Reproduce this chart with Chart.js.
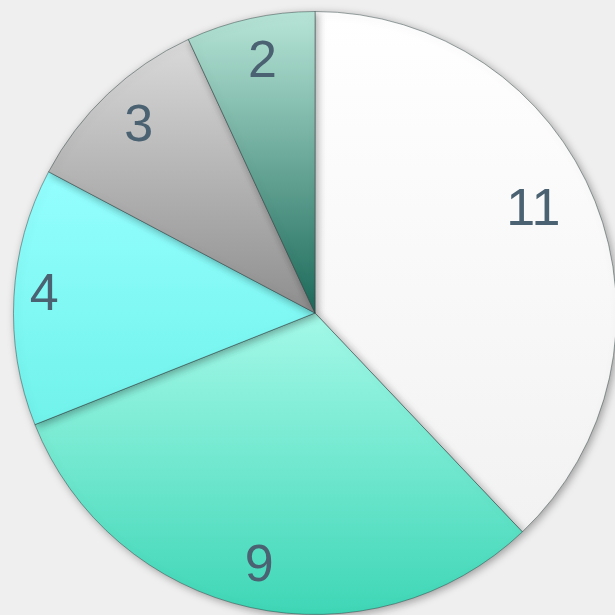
<!DOCTYPE html>
<html>
<head>
<meta charset="utf-8">
<script src="https://cdn.jsdelivr.net/npm/chart.js@4"></script>
<style>
  html, body { margin: 0; padding: 0; background: #efefef; overflow: hidden; }
  #wrap { width: 630px; height: 630px; }
</style>
</head>
<body>
<div id="wrap"><canvas id="pie"></canvas></div>
<script>
const categories = ['A', 'B', 'C', 'D', 'E'];
const values = [11, 9, 4, 3, 2];
// top / bottom colour of each slice's gradient
const topColors = ['#ffffff', '#a4f9e8', '#94ffff', '#dadada', '#b8e6d8'];
const bottomColors = ['#f2f2f2', '#3ed6b6', '#70f2ea', '#8e8e8e', '#1c6a5a'];
const labelRadius = [0.8, 0.86, 0.9, 0.85, 0.85];
const labelTurn = [-0.06, 0, 0.01, 0, 0.01];

function sliceBounds(chart, i) {
  const area = chart.chartArea;
  const cy = (area.top + area.bottom) / 2;
  const r = Math.min(area.right - area.left, area.bottom - area.top) / 2;
  const total = values.reduce((a, b) => a + b, 0);
  let start = 0;
  for (let k = 0; k < i; k++) start += values[k];
  const a0 = -Math.PI / 2 + start / total * Math.PI * 2;
  const a1 = a0 + values[i] / total * Math.PI * 2;
  let ys = [cy, cy + r * Math.sin(a0), cy + r * Math.sin(a1)];
  for (let a = a0; a <= a1; a += 0.02) ys.push(cy + r * Math.sin(a));
  return [Math.min(...ys), Math.max(...ys)];
}

const ctx = document.getElementById('pie').getContext('2d');

const shadowPlugin = {
  id: 'shadow',
  beforeDatasetsDraw(chart) {
    const c = chart.ctx;
    c.save();
    c.shadowColor = 'rgba(0,0,0,0.35)';
    c.shadowBlur = 8;
    c.shadowOffsetX = 2;
    c.shadowOffsetY = 2;
  },
  afterDatasetsDraw(chart) {
    chart.ctx.restore();
  }
};

const labelPlugin = {
  id: 'sliceLabels',
  afterDraw(chart) {
    const c = chart.ctx;
    const meta = chart.getDatasetMeta(0);
    c.save();
    c.font = '52px "Liberation Sans", Arial, sans-serif';
    c.fillStyle = '#4a6272';
    c.textAlign = 'center';
    c.textBaseline = 'middle';
    meta.data.forEach((arc, i) => {
      const p = arc.getProps(['x', 'y', 'startAngle', 'endAngle', 'outerRadius']);
      const mid = (p.startAngle + p.endAngle) / 2 + labelTurn[i];
      const rr = p.outerRadius * labelRadius[i];
      c.fillText(String(values[i]), p.x + Math.cos(mid) * rr, p.y + Math.sin(mid) * rr);
    });
    c.restore();
  }
};

new Chart(ctx, {
  type: 'pie',
  data: {
    labels: categories,
    datasets: [{
      data: values,
      backgroundColor: function(context) {
        const chart = context.chart;
        if (!chart.chartArea) return topColors[context.dataIndex];
        const i = context.dataIndex;
        const b = sliceBounds(chart, i);
        const g = chart.ctx.createLinearGradient(0, b[0], 0, b[1]);
        g.addColorStop(0, topColors[i]);
        g.addColorStop(1, bottomColors[i]);
        return g;
      },
      borderColor: 'rgba(40,60,60,0.45)',
      borderWidth: 1
    }]
  },
  options: {
    responsive: true,
    maintainAspectRatio: false,
    animation: false,
    layout: { padding: { left: 13, top: 11, right: 13, bottom: 15 } },
    plugins: {
      legend: { display: false },
      tooltip: { enabled: false }
    }
  },
  plugins: [shadowPlugin, labelPlugin]
});
</script>
</body>
</html>
